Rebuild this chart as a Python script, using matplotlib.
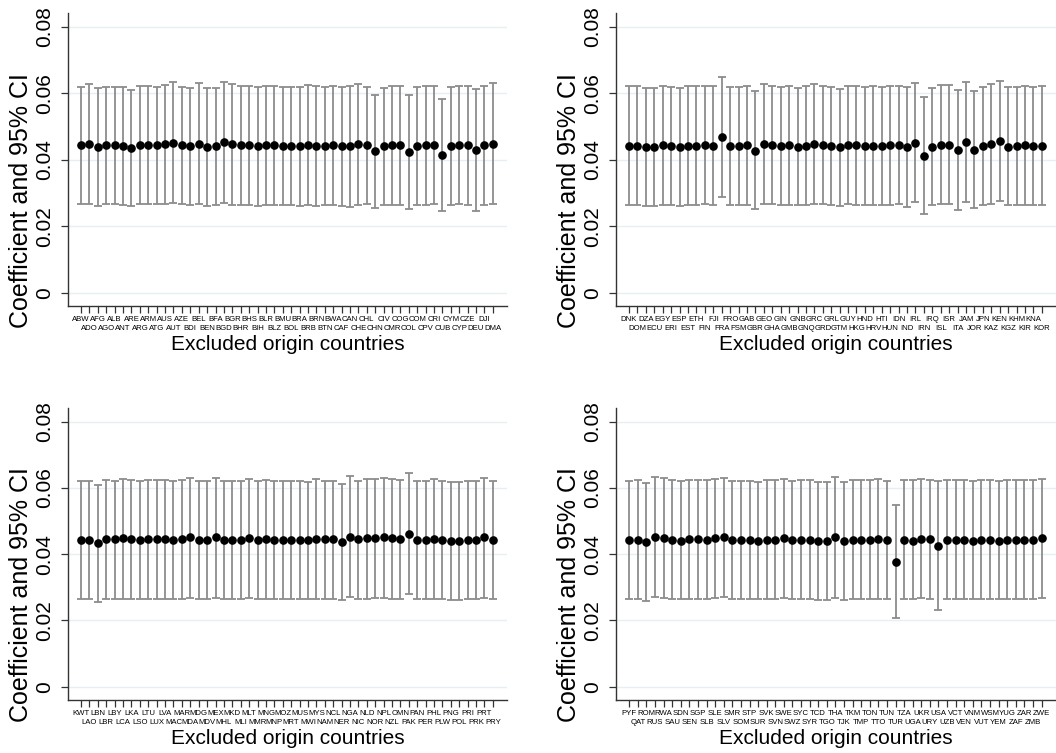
import numpy as np
import matplotlib
matplotlib.use("Agg")
import matplotlib.pyplot as plt

plt.rcParams["font.family"] = ["Liberation Sans", "DejaVu Sans"]

# --- панель 1 ---
codes_1 = ["ABW", "ADO", "AFG", "AGO", "ALB", "ANT", "ARE", "ARG", "ARM", "ATG",
           "AUS", "AUT", "AZE", "BDI", "BEL", "BEN", "BFA", "BGD", "BGR", "BHR",
           "BHS", "BIH", "BLR", "BLZ", "BMU", "BOL", "BRA", "BRB", "BRN", "BTN",
           "BWA", "CAF", "CAN", "CHE", "CHL", "CHN", "CIV", "CMR", "COG", "COL",
           "COM", "CPV", "CRI", "CUB", "CYM", "CYP", "CZE", "DEU", "DJI", "DMA"]
coef_1 = [.0443, .0448, .0439, .0443, .0443, .0442, .0436, .0444, .0444, .0443,
          .0446, .0451, .0443, .0440, .0448, .0439, .0440, .0452, .0446, .0444,
          .0444, .0441, .0444, .0444, .0442, .0441, .0440, .0444, .0442, .0441,
          .0443, .0440, .0440, .0446, .0443, .0425, .0440, .0443, .0443, .0423,
          .0442, .0444, .0445, .0414, .0442, .0445, .0443, .0430, .0443, .0448]
hi_1 = [.0620, .0628, .0616, .0620, .0620, .0620, .0610, .0622, .0622, .0620,
        .0625, .0633, .0620, .0616, .0630, .0616, .0616, .0635, .0627, .0623,
        .0623, .0620, .0623, .0623, .0620, .0618, .0618, .0624, .0623, .0618,
        .0622, .0618, .0622, .0627, .0620, .0596, .0616, .0622, .0622, .0595,
        .0620, .0623, .0623, .0583, .0620, .0623, .0622, .0613, .0622, .0630]
lo_1 = [.0266, .0268, .0262, .0266, .0266, .0264, .0262, .0266, .0266, .0266,
        .0267, .0269, .0266, .0264, .0266, .0262, .0264, .0269, .0265, .0265,
        .0265, .0262, .0265, .0265, .0264, .0264, .0262, .0264, .0261, .0264,
        .0264, .0262, .0258, .0265, .0266, .0254, .0264, .0264, .0264, .0251,
        .0264, .0265, .0267, .0245, .0264, .0267, .0264, .0247, .0264, .0266]

# --- панель 2 ---
codes_2 = ["DNK", "DOM", "DZA", "ECU", "EGY", "ERI", "ESP", "EST", "ETH", "FIN",
           "FJI", "FRA", "FRO", "FSM", "GAB", "GBR", "GEO", "GHA", "GIN", "GMB",
           "GNB", "GNQ", "GRC", "GRD", "GRL", "GTM", "GUY", "HKG", "HND", "HRV",
           "HTI", "HUN", "IDN", "IND", "IRL", "IRN", "IRQ", "ISL", "ISR", "ITA",
           "JAM", "JOR", "JPN", "KAZ", "KEN", "KGZ", "KHM", "KIR", "KNA", "KOR"]
coef_2 = [.0442, .0442, .0439, .0438, .0443, .0440, .0437, .0442, .0442, .0444,
          .0442, .0468, .0442, .0440, .0443, .0427, .0447, .0444, .0441, .0443,
          .0439, .0441, .0447, .0444, .0441, .0437, .0444, .0443, .0440, .0441,
          .0441, .0443, .0444, .0437, .0451, .0411, .0438, .0444, .0444, .0428,
          .0453, .0430, .0440, .0446, .0455, .0439, .0440, .0443, .0441, .0442]
hi_2 = [.0621, .0621, .0617, .0615, .0623, .0618, .0615, .0621, .0621, .0622,
        .0621, .0648, .0620, .0618, .0621, .0606, .0629, .0622, .0620, .0622,
        .0617, .0621, .0629, .0623, .0620, .0614, .0623, .0621, .0618, .0621,
        .0620, .0622, .0622, .0618, .0632, .0589, .0615, .0624, .0626, .0609,
        .0633, .0608, .0618, .0627, .0637, .0618, .0618, .0623, .0618, .0621]
lo_2 = [.0265, .0265, .0261, .0261, .0265, .0264, .0261, .0265, .0265, .0266,
        .0265, .0289, .0265, .0264, .0265, .0251, .0268, .0266, .0264, .0265,
        .0264, .0264, .0268, .0266, .0265, .0261, .0266, .0265, .0264, .0265,
        .0265, .0265, .0267, .0257, .0272, .0237, .0265, .0266, .0266, .0248,
        .0274, .0255, .0264, .0268, .0275, .0264, .0265, .0265, .0265, .0265]

# --- панель 3 ---
codes_3 = ["KWT", "LAO", "LBN", "LBR", "LBY", "LCA", "LKA", "LSO", "LTU", "LUX",
           "LVA", "MAC", "MAR", "MDA", "MDG", "MDV", "MEX", "MHL", "MKD", "MLI",
           "MLT", "MMR", "MNG", "MNP", "MOZ", "MRT", "MUS", "MWI", "MYS", "NAM",
           "NCL", "NER", "NGA", "NIC", "NLD", "NOR", "NPL", "NZL", "OMN", "PAK",
           "PAN", "PER", "PHL", "PLW", "PNG", "POL", "PRI", "PRK", "PRT", "PRY"]
coef_3 = [.0443, .0444, .0433, .0446, .0445, .0448, .0446, .0444, .0446, .0446,
          .0446, .0443, .0446, .0451, .0442, .0444, .0451, .0444, .0444, .0442,
          .0449, .0444, .0446, .0444, .0444, .0444, .0444, .0442, .0447, .0445,
          .0445, .0438, .0453, .0445, .0448, .0450, .0451, .0448, .0446, .0462,
          .0444, .0442, .0446, .0444, .0441, .0440, .0444, .0444, .0451, .0444]
hi_3 = [.0622, .0622, .0608, .0624, .0622, .0626, .0624, .0622, .0624, .0624,
        .0624, .0622, .0624, .0630, .0620, .0622, .0630, .0622, .0622, .0620,
        .0628, .0622, .0624, .0622, .0622, .0622, .0622, .0618, .0626, .0622,
        .0622, .0613, .0635, .0622, .0626, .0628, .0630, .0626, .0624, .0644,
        .0622, .0620, .0626, .0622, .0618, .0618, .0622, .0622, .0630, .0622]
lo_3 = [.0265, .0265, .0255, .0266, .0266, .0266, .0266, .0266, .0266, .0266,
        .0266, .0265, .0266, .0269, .0264, .0265, .0269, .0265, .0265, .0264,
        .0268, .0265, .0266, .0265, .0265, .0265, .0265, .0264, .0266, .0265,
        .0265, .0261, .0272, .0265, .0266, .0268, .0268, .0266, .0266, .0280,
        .0265, .0264, .0266, .0265, .0263, .0262, .0265, .0265, .0268, .0265]

# --- панель 4 ---
codes_4 = ["PYF", "QAT", "ROM", "RUS", "RWA", "SAU", "SDN", "SEN", "SGP", "SLB",
           "SLE", "SLV", "SMR", "SOM", "STP", "SUR", "SVK", "SVN", "SWE", "SWZ",
           "SYC", "SYR", "TCD", "TGO", "THA", "TJK", "TKM", "TMP", "TON", "TTO",
           "TUN", "TUR", "TZA", "UGA", "UKR", "URY", "USA", "UZB", "VCT", "VEN",
           "VNM", "VUT", "WSM", "YEM", "YUG", "ZAF", "ZAR", "ZMB", "ZWE"]
coef_4 = [.0443, .0443, .0436, .0451, .0449, .0444, .0440, .0445, .0445, .0444,
          .0448, .0452, .0442, .0442, .0442, .0439, .0443, .0443, .0448, .0442,
          .0444, .0443, .0440, .0441, .0451, .0439, .0442, .0442, .0444, .0447,
          .0442, .0377, .0443, .0441, .0447, .0445, .0426, .0442, .0444, .0443,
          .0439, .0443, .0442, .0440, .0442, .0443, .0443, .0442, .0449]
hi_4 = [.0621, .0623, .0615, .0632, .0629, .0624, .0620, .0625, .0625, .0623,
        .0627, .0630, .0621, .0621, .0621, .0617, .0623, .0623, .0627, .0621,
        .0623, .0623, .0619, .0619, .0632, .0619, .0623, .0623, .0625, .0627,
        .0621, .0548, .0623, .0623, .0627, .0623, .0621, .0623, .0623, .0623,
        .0620, .0623, .0623, .0620, .0623, .0623, .0623, .0623, .0627]
lo_4 = [.0265, .0265, .0259, .0271, .0268, .0265, .0264, .0266, .0266, .0265,
        .0268, .0272, .0265, .0265, .0265, .0264, .0265, .0265, .0268, .0265,
        .0265, .0265, .0262, .0262, .0268, .0262, .0265, .0265, .0265, .0266,
        .0265, .0207, .0265, .0265, .0267, .0266, .0233, .0265, .0265, .0265,
        .0264, .0265, .0265, .0264, .0265, .0265, .0265, .0265, .0268]

yticks = [0, 0.02, 0.04, 0.06, 0.08]
ytick_labels = ["0", "0.02", "0.04", "0.06", "0.08"]

panels = [
    (codes_1, coef_1, lo_1, hi_1),
    (codes_2, coef_2, lo_2, hi_2),
    (codes_3, coef_3, lo_3, hi_3),
    (codes_4, coef_4, lo_4, hi_4),
]

# позиции осей (в долях фигуры)
rects = [
    [0.0644, 0.5936, 0.4157, 0.3891],
    [0.5833, 0.5936, 0.4167, 0.3891],
    [0.0644, 0.0704, 0.4157, 0.3878],
    [0.5833, 0.0704, 0.4167, 0.3878],
]

fig = plt.figure(figsize=(10.56, 7.53), dpi=100)

for rect, (codes, coef, lo, hi) in zip(rects, panels):
    ax = fig.add_axes(rect)
    x = np.arange(1, len(codes) + 1)
    coef = np.array(coef)
    err = [coef - np.array(lo), np.array(hi) - coef]

    for yv in yticks:
        ax.axhline(yv, color="#e6eff1", lw=1.0, zorder=0)

    ax.errorbar(x, coef, yerr=err, fmt="none", ecolor="#8c8c8c",
                elinewidth=1.3, capsize=2.6, capthick=1.3, zorder=2)
    ax.plot(x, coef, "o", color="black", markersize=5.2, zorder=3)

    ax.set_xlim(-0.55, len(codes) + 1.68)
    ax.set_ylim(-0.004, 0.0841)

    ax.set_yticks(yticks)
    ax.set_yticklabels(ytick_labels, rotation=90, va="center", fontsize=15)

    # подписи стран в два ряда
    ax.set_xticks(x[::2])
    ax.set_xticklabels(codes[::2], fontsize=5.6)
    ax.set_xticks(x[1::2], minor=True)
    ax.set_xticklabels(codes[1::2], minor=True, fontsize=5.6)
    ax.tick_params(axis="x", which="major", length=5, width=0.9,
                   color="#333333", pad=2)
    ax.tick_params(axis="x", which="minor", length=5, width=0.9,
                   color="#333333", pad=8.5)
    ax.tick_params(axis="y", length=5, width=0.9, color="#333333", pad=5)

    for side in ["top", "right"]:
        ax.spines[side].set_visible(False)
    for side in ["left", "bottom"]:
        ax.spines[side].set_color("#333333")
        ax.spines[side].set_linewidth(1.0)

    ax.set_ylabel("Coefficient and 95% CI", fontsize=18)
    ax.yaxis.set_label_coords(-0.08, 0.36)
    ax.set_xlabel("Excluded origin countries", fontsize=15)
    ax.xaxis.set_label_coords(0.5, -0.1)

plt.savefig("out.png", dpi=100)
